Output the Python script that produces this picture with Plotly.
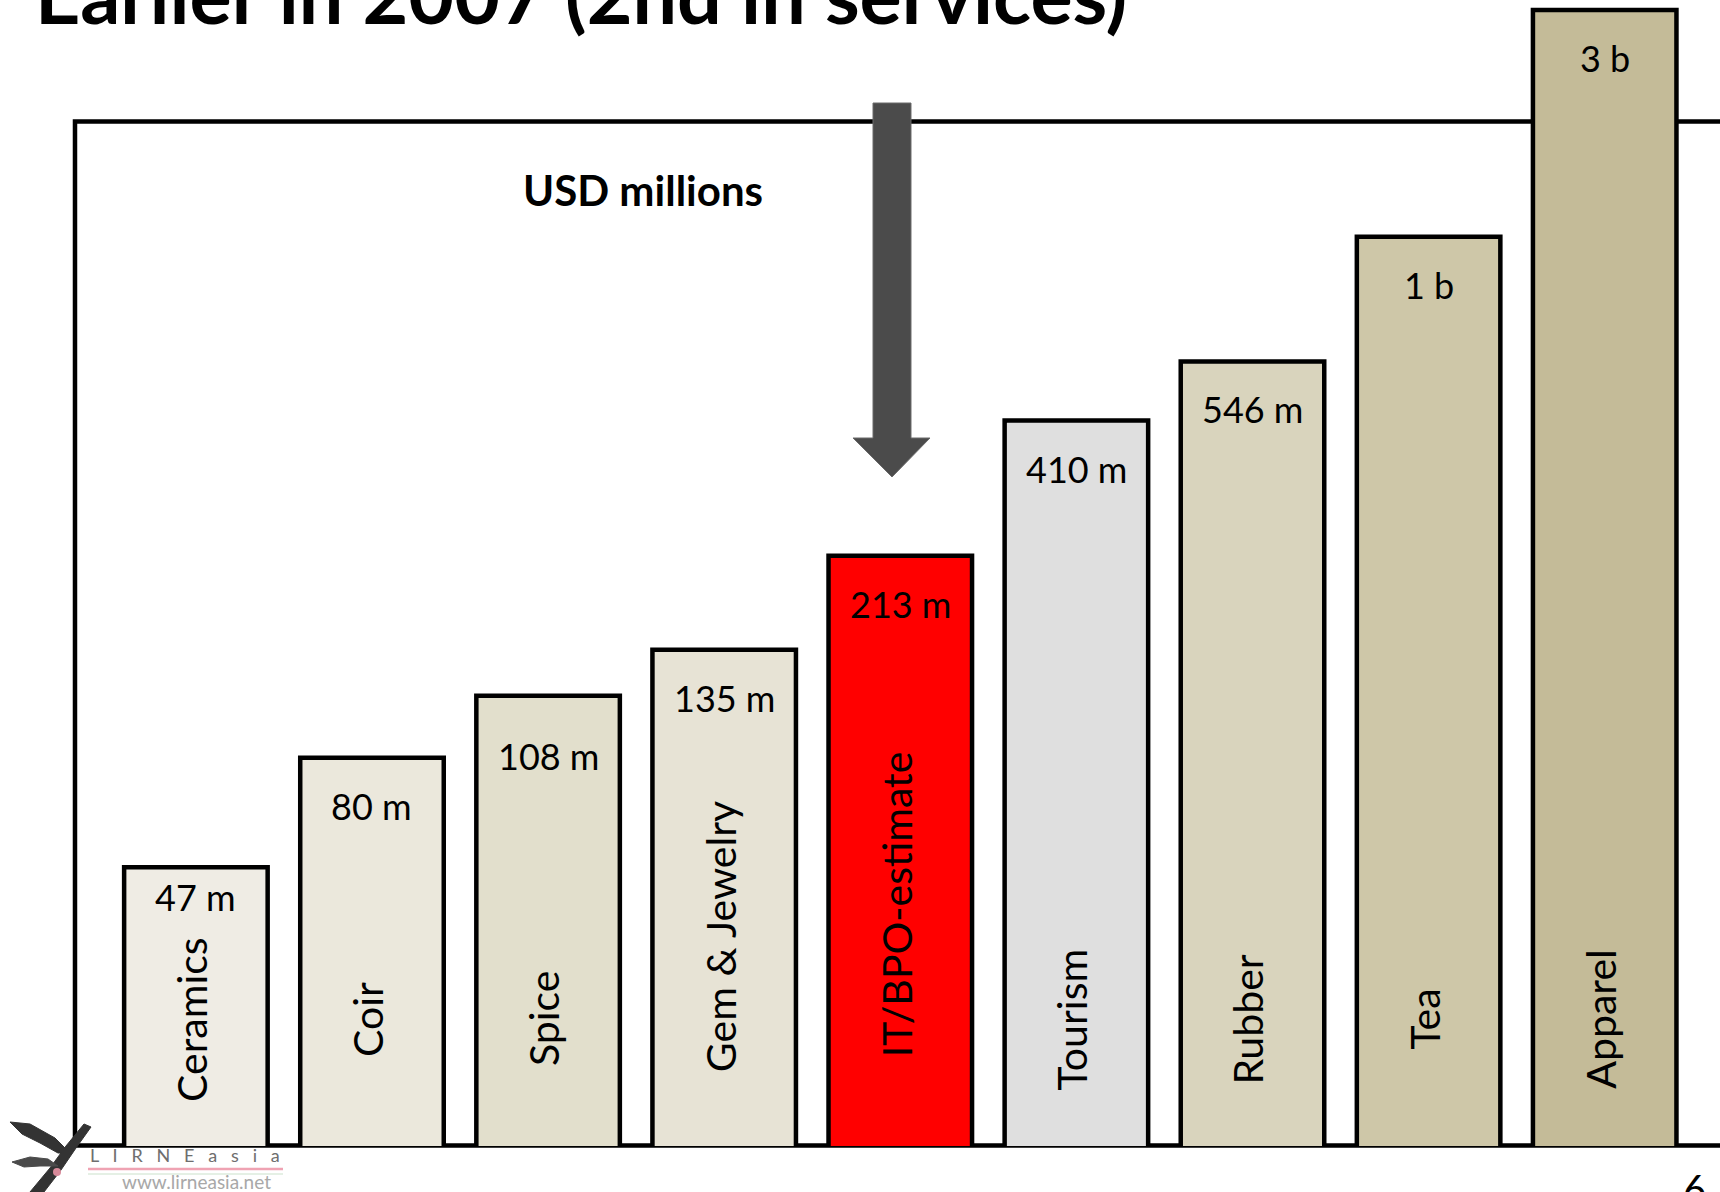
import plotly.graph_objects as go
import math

# Sri Lanka export earnings by sector, 2007 (USD millions)
sectors = ["Ceramics", "Coir", "Spice", "Gem & Jewelry", "IT/BPO-estimate",
           "Tourism", "Rubber", "Tea", "Apparel"]
export_usd_m = [47, 80, 108, 135, 213, 410, 546, 1000, 3000]
value_labels = ["47 m", "80 m", "108 m", "135 m", "213 m", "410 m", "546 m", "1 b", "3 b"]

# styling
bar_colors = ["#EFECE4", "#EBE8DC", "#E2DFCC", "#E7E3D5", "#FF0000",
              "#DFDFDF", "#D9D4BD", "#CEC7A8", "#C4BB98"]
W, H = 1720, 1192
MARGIN_B = 46
PLOT_H = H - MARGIN_B
FONT = "Lato, 'Noto Sans', sans-serif"


def fx(p):
    """pixel column -> paper x"""
    return p / W


def fy(p):
    """pixel row -> paper y"""
    return 1 - p / PLOT_H


fig = go.Figure()
fig.add_trace(go.Bar(
    x=sectors,
    y=export_usd_m,
    marker=dict(color=bar_colors, line=dict(color="black", width=4.5)),
    hoverinfo="x+y",
))

annotations = []
# value labels just under the top edge of every bar
label_drop_px = {"Ceramics": 30, "Spice": 60}
for name, v, lab in zip(sectors, export_usd_m, value_labels):
    annotations.append(dict(
        x=name, y=math.log10(v), xref="x", yref="y", text=lab,
        showarrow=False, yanchor="middle", xanchor="center",
        yshift=-label_drop_px.get(name, 48),
        font=dict(family=FONT, size=36, color="black"),
    ))

# sector names written upward inside the bars
label_centre_px = {"Gem & Jewelry": 937, "IT/BPO-estimate": 904}
for name in sectors:
    annotations.append(dict(
        x=name, y=fy(label_centre_px.get(name, 1019)), xref="x", yref="paper",
        text=name, textangle=-90, showarrow=False, xshift=-4,
        xanchor="center", yanchor="middle",
        font=dict(family=FONT, size=41, color="black"),
    ))

annotations += [
    dict(x=fx(33), y=fy(27), xref="paper", yref="paper", xanchor="left", yanchor="bottom",
         yshift=-16, text="<b>Earlier in 2007 (2nd in services)</b>", showarrow=False,
         font=dict(family=FONT, size=79, color="black")),
    dict(x=fx(643), y=fy(190), xref="paper", yref="paper", xanchor="center", yanchor="middle",
         text="<b>USD millions</b>", showarrow=False,
         font=dict(family=FONT, size=42, color="black")),
    dict(x=fx(1694), y=fy(1163), xref="paper", yref="paper", xanchor="center", yanchor="top",
         text="6", showarrow=False, font=dict(family=FONT, size=40, color="black")),
    dict(x=fx(185), y=fy(1155), xref="paper", yref="paper", xanchor="center", yanchor="middle",
         text="L   I   R   N   E   a   s   i   a", showarrow=False,
         font=dict(family=FONT, size=18, color="#6E6E6E")),
    dict(x=fx(196), y=fy(1181), xref="paper", yref="paper", xanchor="center", yanchor="middle",
         text="www.lirneasia.net", showarrow=False,
         font=dict(family=FONT, size=19, color="#A8A8A8")),
]


def path(points, close=True):
    s = "M " + " L ".join(f"{fx(x):.5f},{fy(y):.5f}" for x, y in points)
    return s + (" Z" if close else "")


shapes = [
    # open frame around the chart (continues off the right edge)
    dict(type="path", xref="paper", yref="paper", layer="below",
         path=path([(1740, 121.5), (75, 121.5), (75, 1145.5), (1740, 1145.5)], close=False),
         line=dict(color="black", width=4.5)),
    # down arrow pointing at the IT/BPO bar
    dict(type="path", xref="paper", yref="paper", layer="above",
         path=path([(873, 103), (911, 103), (911, 438), (930, 438), (892, 477),
                    (853, 438), (873, 438)]),
         fillcolor="#4B4B4B", line=dict(color="#6A6A6A", width=1)),
    # logo rule lines
    dict(type="line", xref="paper", yref="paper", x0=fx(88), x1=fx(283), y0=fy(1169), y1=fy(1169),
         line=dict(color="#EFA3B3", width=2.5)),
    dict(type="line", xref="paper", yref="paper", x0=fx(88), x1=fx(283), y0=fy(1174), y1=fy(1174),
         line=dict(color="#DCEBDC", width=1.5)),
    # logo bird strokes
    dict(type="path", xref="paper", yref="paper",
         path=path([(10, 1122), (30, 1124), (55, 1138), (70, 1153), (58, 1153),
                    (40, 1143), (22, 1134)]),
         fillcolor="#333333", line=dict(color="#333333", width=1)),
    dict(type="path", xref="paper", yref="paper",
         path=path([(84, 1124), (91, 1127), (76, 1148), (61, 1170), (44, 1192),
                    (30, 1192), (50, 1168), (66, 1146)]),
         fillcolor="#333333", line=dict(color="#333333", width=1)),
    dict(type="path", xref="paper", yref="paper",
         path=path([(12, 1162), (30, 1157), (48, 1159), (58, 1166), (40, 1166), (24, 1167)]),
         fillcolor="#4A4A4A", line=dict(color="#4A4A4A", width=1)),
    dict(type="circle", xref="paper", yref="paper", x0=fx(53), x1=fx(61), y0=fy(1168), y1=fy(1176),
         fillcolor="#D88A9A", line=dict(width=0)),
]

fig.update_layout(
    width=W, height=H,
    margin=dict(l=0, r=0, t=0, b=MARGIN_B),
    paper_bgcolor="white", plot_bgcolor="white",
    showlegend=False,
    bargap=0.185,
    xaxis=dict(visible=False, range=[-1.1124, 8.6548], type="category"),
    yaxis=dict(visible=False, type="log", range=[1.0855, 3.4982]),
    annotations=annotations,
    shapes=shapes,
)

fig.write_html("out.html")
